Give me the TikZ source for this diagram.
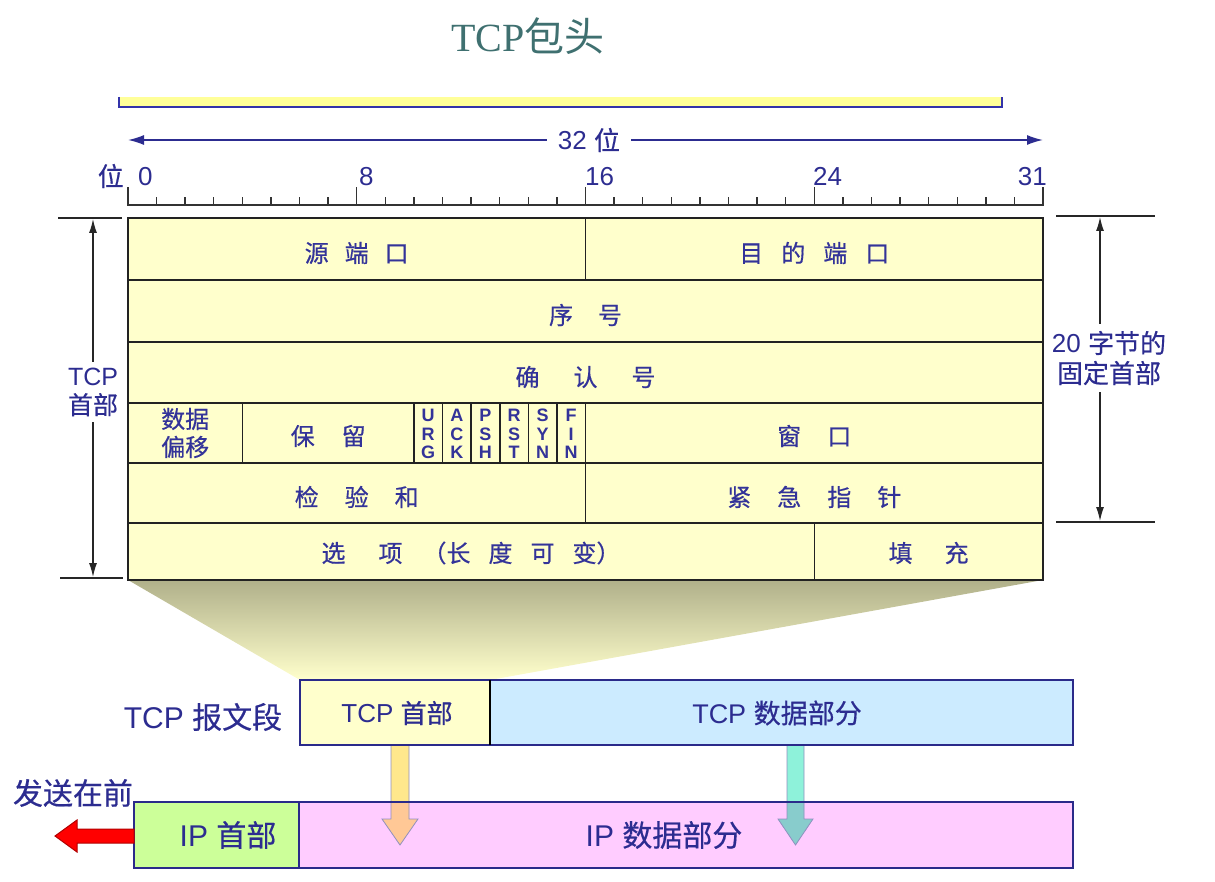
\documentclass[tikz,border=0pt]{standalone}
\usepackage{fontspec}
\setmainfont{Liberation Sans}
\newfontfamily\cjk[FakeBold=0.5]{Noto Sans CJK SC}
\newfontfamily\cjktitle{Noto Sans CJK SC}
\newfontfamily\serifttl{Liberation Serif}
\usetikzlibrary{arrows.meta}
\definecolor{txtblue}{HTML}{2C2C90}
\definecolor{tabblue}{HTML}{333399}
\definecolor{gridcol}{HTML}{222222}
\definecolor{rulecol}{HTML}{333333}
\definecolor{cellfill}{HTML}{FFFFCC}
\definecolor{barfill}{HTML}{FFFF99}
\definecolor{barblue}{HTML}{3333AA}
\definecolor{titlecol}{HTML}{3F7070}
\definecolor{shadetop}{HTML}{B0B08A}
\definecolor{boxblue}{HTML}{2A2A8A}
\definecolor{datablue}{HTML}{CCEBFF}
\definecolor{ipgreen}{HTML}{CCFF99}
\definecolor{ippink}{HTML}{FFCCFF}
\definecolor{arrY}{HTML}{FFE88C}
\definecolor{arrO}{HTML}{FFC896}
\definecolor{arrT}{HTML}{8EF2DA}
\definecolor{arrTP}{HTML}{88CCCC}
\definecolor{arrline}{HTML}{9090C0}
\newcommand\zh[1]{{\cjk #1}}
\newcommand\fsz[2]{\fontsize{#1}{#2}\selectfont}
\begin{document}
\begin{tikzpicture}[x=1pt,y=-1pt,
  lbl/.style={text=txtblue, inner sep=0pt},
  tab/.style={text=tabblue, inner sep=0pt, font=\fsz{24}{28}\cjk},
  flag/.style={text=tabblue, inner sep=0pt, font=\fsz{18}{18.5}\bfseries, align=center},
  inline/.style={draw=gridcol, line width=1.6pt},
  outline/.style={draw=gridcol, line width=2.8pt},
  tickline/.style={draw=rulecol, line width=1.4pt},
  dimline/.style={draw=black!85, line width=1.2pt},
  dimarrow/.style={dimline, -{Latex[length=14pt,width=8pt]}},
  bluearrow/.style={draw=txtblue, line width=1.6pt, -{Latex[length=16pt,width=10pt]}},
  boxline/.style={draw=boxblue, line width=2.8pt},
  segbox/.style={inner sep=0pt, outer sep=0pt, anchor=north west},
  dnarrow/.style={draw=arrline, line width=0.8pt},
]
\useasboundingbox (0,0) rectangle (1215,882);

% title
\node[text=titlecol, font=\fsz{40}{44}, inner sep=0pt] (title) at (528,36) {{\serifttl TCP}{\cjktitle 包头}};

% top bar
\fill[barfill] (119,97) rectangle (1002,107);
\draw[barblue, line width=1.8pt] (119,97) -- (119,107) -- (1002,107) -- (1002,97);

% 32 bit arrow
\node[lbl, font=\fsz{26}{30}, inner sep=11pt] (w32) at (589,140) {32 \zh{位}};
\coordinate (L32) at (128,140);
\coordinate (R32) at (1043,140);
\draw[bluearrow] (w32.west) -- (L32);
\draw[bluearrow] (w32.east) -- (R32);

% ruler
\draw[tickline] (127,205) -- (1044,205);
\foreach \i in {0,...,32} { \draw[tickline] ({128+\i*28.594},205) -- ({128+\i*28.594},197); }
\foreach \i in {0,8,16,24,32} { \draw[tickline] ({128+\i*28.594},205) -- ({128+\i*28.594},187); }
\node[lbl, font=\fsz{26}{30}, anchor=base east] (rwei) at (124,186) {\zh{位}};
\node[lbl, font=\fsz{26}{30}, anchor=base west] (r0) at (138,186) {0};
\node[lbl, font=\fsz{26}{30}, anchor=base west] (r8) at (359,186) {8};
\node[lbl, font=\fsz{26}{30}, anchor=base west] (r16) at (585,186) {16};
\node[lbl, font=\fsz{26}{30}, anchor=base west] (r24) at (813,186) {24};
\node[lbl, font=\fsz{26}{30}, anchor=base east] (r31) at (1047,186) {31};

% projection shading
\shade[top color=shadetop, bottom color=cellfill] (128,580) -- (1043,580) -- (490,680) -- (300,680) -- cycle;

% header table
\fill[cellfill] (128,218) rectangle (1043,580);
\draw[inline] (128,280) -- (1043,280);
\draw[inline] (128,342) -- (1043,342);
\draw[inline] (128,403) -- (1043,403);
\draw[inline] (128,463) -- (1043,463);
\draw[inline] (128,523) -- (1043,523);
\draw[inline] (585.5,218) -- (585.5,280);
\foreach \xx in {242.4,413.9,442.5,471.1,499.7,528.3,556.9,585.5} { \draw[inline] (\xx,403) -- (\xx,463); }
\draw[inline] (585.5,463) -- (585.5,523);
\draw[inline] (814.3,523) -- (814.3,580);
\draw[outline] (128,218) rectangle (1043,580);

\node[tab] (srcport) at (356.7,253) {源\hspace{16pt}端\hspace{16pt}口};
\node[tab] (dstport) at (814.3,253) {目\hspace{18pt}的\hspace{18pt}端\hspace{18pt}口};
\node[tab] (seqno) at (585.5,315) {序\hspace{25pt}号};
\node[tab] (ackno) at (585.5,377) {确\hspace{34pt}认\hspace{34pt}号};
\node[tab, align=center] (offset) at (185.2,433) {数据\\偏移};
\node[tab] (resv) at (328.2,436) {保\hspace{27pt}留};
\node[flag] (furg) at (428.2,434) {U\\R\\G};
\node[flag] (fack) at (456.8,434) {A\\C\\K};
\node[flag] (fpsh) at (485.4,434) {P\\S\\H};
\node[flag] (frst) at (514.0,434) {R\\S\\T};
\node[flag] (fsyn) at (542.6,434) {S\\Y\\N};
\node[flag] (ffin) at (571.2,434) {F\\I\\N};
\node[tab] (window) at (814.3,436) {窗\hspace{26pt}口};
\node[tab] (cksum) at (356.7,497) {检\hspace{26pt}验\hspace{26pt}和};
\node[tab] (urgptr) at (814.3,497) {紧\hspace{26pt}急\hspace{26pt}指\hspace{26pt}针};
\node[tab] (options) at (471,553) {选\hspace{33pt}项\hspace{20pt}（长\hspace{18pt}度\hspace{18pt}可\hspace{18pt}变）};
\node[tab] (padding) at (928.6,553) {填\hspace{32pt}充};

% left dimension
\draw[dimline] (58,218) -- (122,218);
\draw[dimline] (60,578) -- (123,578);
\node[lbl, font=\fsz{25}{29}, align=center, inner sep=6pt] (tcpside) at (93,392) {TCP\\\zh{首部}};
\coordinate (topL) at (93,219);
\coordinate (botL) at (93,577);
\draw[dimarrow] (tcpside.north) -- (topL);
\draw[dimarrow] (tcpside.south) -- (botL);

% right dimension
\draw[dimline] (1056,216) -- (1155,216);
\draw[dimline] (1056,522) -- (1155,522);
\node[lbl, font=\fsz{26}{30}, align=center, inner sep=7pt] (fixedhdr) at (1109,358) {20 \zh{字节的}\\\zh{固定首部}};
\coordinate (topR) at (1100,217);
\coordinate (botR) at (1100,521);
\draw[dimarrow] (fixedhdr.north -| topR) -- (topR);
\draw[dimarrow] (fixedhdr.south -| botR) -- (botR);

% TCP segment
\node[segbox, fill=cellfill, minimum width=190pt, minimum height=65pt] (tcph) at (300,680) {};
\node[segbox, fill=datablue, minimum width=583pt, minimum height=65pt] (tcpd) at (490,680) {};
\node[lbl, font=\fsz{26}{30}] (tcphtxt) at (397,713) {TCP \zh{首部}};
\node[lbl, font=\fsz{27}{30}] (tcpdtxt) at (777,713) {TCP \zh{数据部分}};
\node[lbl, font=\fsz{30}{32}] (seglbl) at (203,717) {TCP \zh{报文段}};

% IP datagram
\node[segbox, fill=ipgreen, minimum width=165pt, minimum height=66pt] (iph) at (134,802) {};
\node[segbox, fill=ippink, minimum width=774pt, minimum height=66pt] (ipd) at (299,802) {};
\node[lbl, font=\fsz{30}{32}] (iphtxt) at (228,835) {IP \zh{首部}};
\node[lbl, font=\fsz{30}{32}] (ipdtxt) at (664,835) {IP \zh{数据部分}};
\node[lbl, font=\fsz{30}{32}] (sendfirst) at (73,793) {\zh{发送在前}};

% down arrows (translucent look)
\fill[arrY] (391,746) -- (391,819) -- (382,819) -- (400,845) -- (418,819) -- (409,819) -- (409,746) -- cycle;
\fill[arrT] (787,746) -- (787,819) -- (778,819) -- (795.5,845) -- (813,819) -- (804,819) -- (804,746) -- cycle;
\begin{scope}
\clip (ipd.north west) rectangle (ipd.south east);
\fill[arrO] (391,746) -- (391,819) -- (382,819) -- (400,845) -- (418,819) -- (409,819) -- (409,746) -- cycle;
\fill[arrTP] (787,746) -- (787,819) -- (778,819) -- (795.5,845) -- (813,819) -- (804,819) -- (804,746) -- cycle;
\end{scope}
\draw[dnarrow] (391,746) -- (391,819) -- (382,819) -- (400,845) -- (418,819) -- (409,819) -- (409,746);
\draw[dnarrow] (787,746) -- (787,819) -- (778,819) -- (795.5,845) -- (813,819) -- (804,819) -- (804,746);

% borders
\draw[boxline] (tcph.north west) rectangle (tcpd.south east);
\draw[black, line width=1.2pt] (tcph.north east) -- (tcph.south east);
\draw[boxline] (iph.north west) rectangle (ipd.south east);
\draw[boxline] (iph.north east) -- (iph.south east);

% red arrow
\draw[fill=red, draw=red!70!black, line width=1pt] (134,829) -- (77,829) -- (77,820) -- (55,836) -- (77,852) -- (77,843) -- (134,843) -- cycle;
\end{tikzpicture}
\end{document}
